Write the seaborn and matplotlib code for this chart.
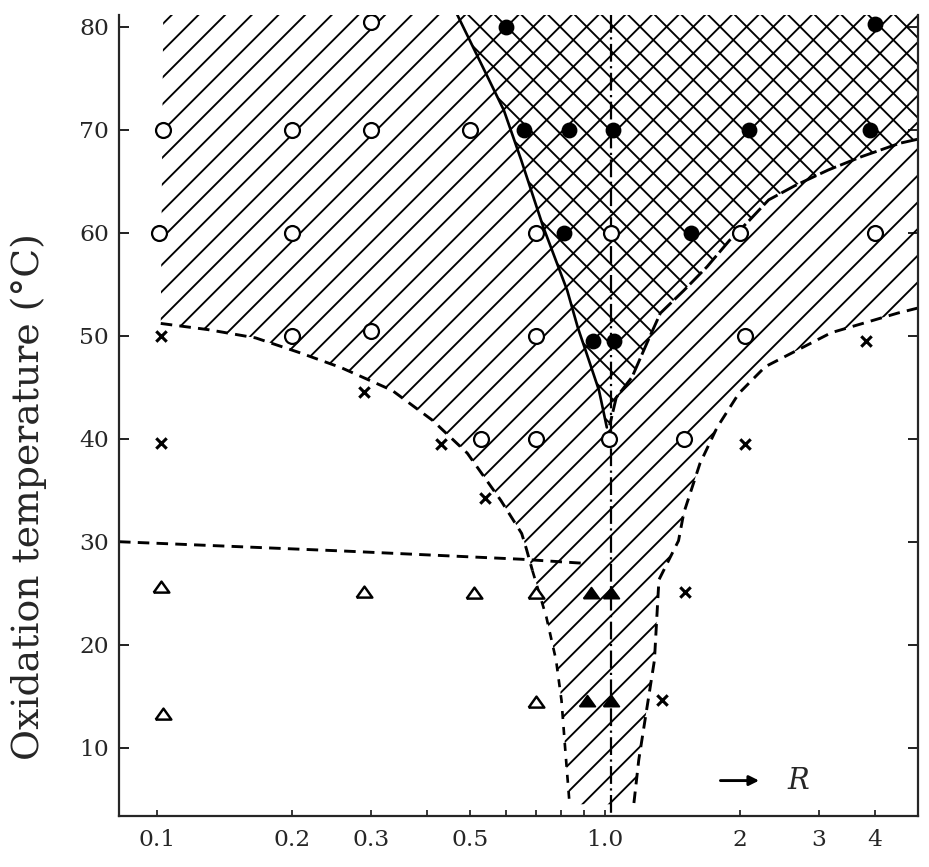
import numpy as np
import pandas as pd
import matplotlib.pyplot as plt
import seaborn as sns
from matplotlib.ticker import NullFormatter

# --- data (R on a log axis, temperature in degC) ---
open_circle_r = [0.103, 0.2, 0.3, 0.5, 0.3, 0.101, 0.2, 0.7, 1.03, 2.0, 4.0,
                 0.7, 2.05, 0.2, 0.3, 0.53, 0.7, 1.02, 1.5]
open_circle_t = [70, 70, 70, 70, 80.5, 60, 60, 60, 60, 60, 60,
                 50, 50, 50, 50.5, 40, 40, 40, 40]

filled_circle_r = [0.6, 0.66, 0.83, 1.04, 2.1, 3.9, 4.0, 0.81, 1.56, 0.94, 1.05]
filled_circle_t = [80, 70, 70, 70, 70, 70, 80.3, 60, 60, 49.5, 49.5]

cross_r = [0.102, 0.29, 0.102, 0.43, 0.54, 3.83, 2.05, 1.51, 1.34]
cross_t = [50, 44.5, 39.6, 39.5, 34.2, 49.5, 39.5, 25.1, 14.6]

open_tri_r = [0.102, 0.29, 0.51, 0.70, 0.103, 0.70]
open_tri_t = [25.6, 25.1, 25.0, 25.0, 13.3, 14.4]

filled_tri_r = [0.93, 1.03, 0.91, 1.03]
filled_tri_t = [25.0, 25.0, 14.5, 14.5]

# phase boundaries
lower_left_r = [0.102, 0.130, 0.166, 0.207, 0.258, 0.335, 0.412, 0.493, 0.586, 0.652, 0.668, 0.689]
lower_left_t = [51.2, 50.6, 49.8, 48.4, 46.9, 44.7, 41.8, 38.6, 34.0, 30.8, 29.3, 27.2]

band_left_r = [0.689, 0.74, 0.778, 0.80, 0.815, 0.834]
band_left_t = [27.2, 22.7, 18.5, 14.6, 10.0, 4.5]

right_curve_r = [5.0, 4.5, 3.2, 2.28, 1.99, 1.78, 1.63, 1.50, 1.46, 1.32, 1.29, 1.19, 1.16]
right_curve_t = [52.7, 52.2, 50.3, 47.0, 44.4, 41.1, 37.6, 32.8, 30.1, 26.3, 18.5, 8.8, 4.5]

cross_lower_r = [5.0, 4.55, 3.74, 3.15, 2.66, 2.32, 2.10, 1.90, 1.69, 1.50, 1.33, 1.25, 1.15, 1.06, 1.025]
cross_lower_t = [69.1, 68.7, 67.4, 66.1, 64.6, 63.2, 61.2, 59.3, 56.7, 54.4, 52.2, 49.6, 46.0, 44.0, 41.3]

solid_r = [0.468, 0.595, 0.65, 0.728, 0.824, 0.87, 0.91, 0.97, 1.01]
solid_t = [81.2, 71.9, 67.1, 60.6, 54.4, 50.8, 48.3, 44.7, 41.1]

horiz_r = [0.0823, 0.26, 0.65, 0.9]
horiz_t = [30.0, 29.1, 28.3, 27.9]

vert_r = [1.03, 1.03]
vert_t = [81.2, 3.4]

x_ticks = [0.1, 0.2, 0.3, 0.5, 1.0, 2, 3, 4]
x_labels = ["0.1", "0.2", "0.3", "0.5", "1.0", "2", "3", "4"]
x_minor = [0.4, 0.6, 0.7, 0.8, 0.9]
y_ticks = [10, 20, 30, 40, 50, 60, 70, 80]

xmin, xmax = 0.0823, 5.0
ymin, ymax = 3.4, 81.2

# --- style ---
DPI = 160
sns.set_style("ticks")
plt.rcParams['font.family'] = ['DejaVu Serif']
plt.rcParams['hatch.linewidth'] = 0.85
plt.rcParams['hatch.color'] = 'black'

fig = plt.figure(figsize=(929 / DPI, 867 / DPI), dpi=DPI)
ax = fig.add_axes([0.1281, 0.0593, 0.8601, 0.9239])
ax.set_xscale('log')

# single-hatched region
hatch_r = [xmin + 0.021, xmax] + right_curve_r + band_left_r[::-1] + lower_left_r[::-1]
hatch_t = [ymax, ymax] + right_curve_t + band_left_t[::-1] + lower_left_t[::-1]
ax.fill(hatch_r, hatch_t, facecolor='none', edgecolor='black', hatch='//', linewidth=0, zorder=1)

# cross-hatched region (second direction laid over the first)
xh_r = solid_r + cross_lower_r[::-1] + [xmax]
xh_t = solid_t + cross_lower_t[::-1] + [ymax]
ax.fill(xh_r, xh_t, facecolor='none', edgecolor='black', hatch='\\\\', linewidth=0, zorder=1)

# boundaries
dash = (0, (4, 2.5))
for r, t, ls, lw in [
    (lower_left_r, lower_left_t, dash, 1.3),
    (band_left_r, band_left_t, (0, (3, 3)), 1.2),
    (right_curve_r, right_curve_t, dash, 1.3),
    (cross_lower_r, cross_lower_t, (0, (6, 1.5)), 1.3),
    (solid_r, solid_t, '-', 1.2),
    (horiz_r, horiz_t, dash, 1.3),
    (vert_r, vert_t, (0, (8, 2, 1, 2)), 1.0),
]:
    sns.lineplot(x=r, y=t, sort=False, estimator=None, color='black',
                 linestyle=ls, linewidth=lw, ax=ax, zorder=2)

# data points
tri = [(-1, -0.65), (1, -0.65), (0, 0.75), (-1, -0.65)]
sns.scatterplot(x=open_circle_r, y=open_circle_t, marker='o', s=45,
                facecolor='white', edgecolor='black', linewidth=1.0, ax=ax, zorder=3)
sns.scatterplot(x=filled_circle_r, y=filled_circle_t, marker='o', s=40,
                facecolor='black', edgecolor='black', linewidth=0.8, ax=ax, zorder=3)
sns.scatterplot(x=cross_r, y=cross_t, marker='x', s=22,
                color='black', edgecolor='black', linewidth=1.4, ax=ax, zorder=3)
sns.scatterplot(x=open_tri_r, y=open_tri_t, marker=tri, s=50,
                facecolor='white', edgecolor='black', linewidth=1.1, ax=ax, zorder=3)
sns.scatterplot(x=filled_tri_r, y=filled_tri_t, marker=tri, s=50,
                facecolor='black', edgecolor='black', linewidth=0.8, ax=ax, zorder=3)

# "-> R" marker
ax.annotate('', xy=(2.26, 6.8), xytext=(1.77, 6.8),
            arrowprops=dict(arrowstyle='-|>', lw=1.3, color='black', mutation_scale=9))
ax.text(2.55, 6.8, 'R', fontsize=13, style='italic', va='center', ha='left')

# axes
ax.set_xlim(xmin, xmax)
ax.set_ylim(ymin, ymax)
ax.set_xticks(x_ticks)
ax.set_xticklabels(x_labels)
ax.set_xticks(x_minor, minor=True)
ax.xaxis.set_minor_formatter(NullFormatter())
ax.set_yticks(y_ticks)
ax.set_yticklabels([str(v) for v in y_ticks])

ax.tick_params(axis='y', which='both', direction='in', length=4.5, width=0.9,
               left=True, right=True, labelsize=10.5, pad=4.5)
ax.tick_params(axis='x', which='both', direction='in', length=2.5, width=0.8,
               labelsize=10.5, pad=6)
for side in ['left', 'bottom', 'right']:
    ax.spines[side].set_linewidth(1.0)
ax.spines['top'].set_visible(False)

ax.set_xlabel('')
ax.set_ylabel('Oxidation temperature (°C)', fontsize=17)
ax.yaxis.set_label_coords(-0.09, 0.398)

fig.savefig('out.png', dpi=DPI)
